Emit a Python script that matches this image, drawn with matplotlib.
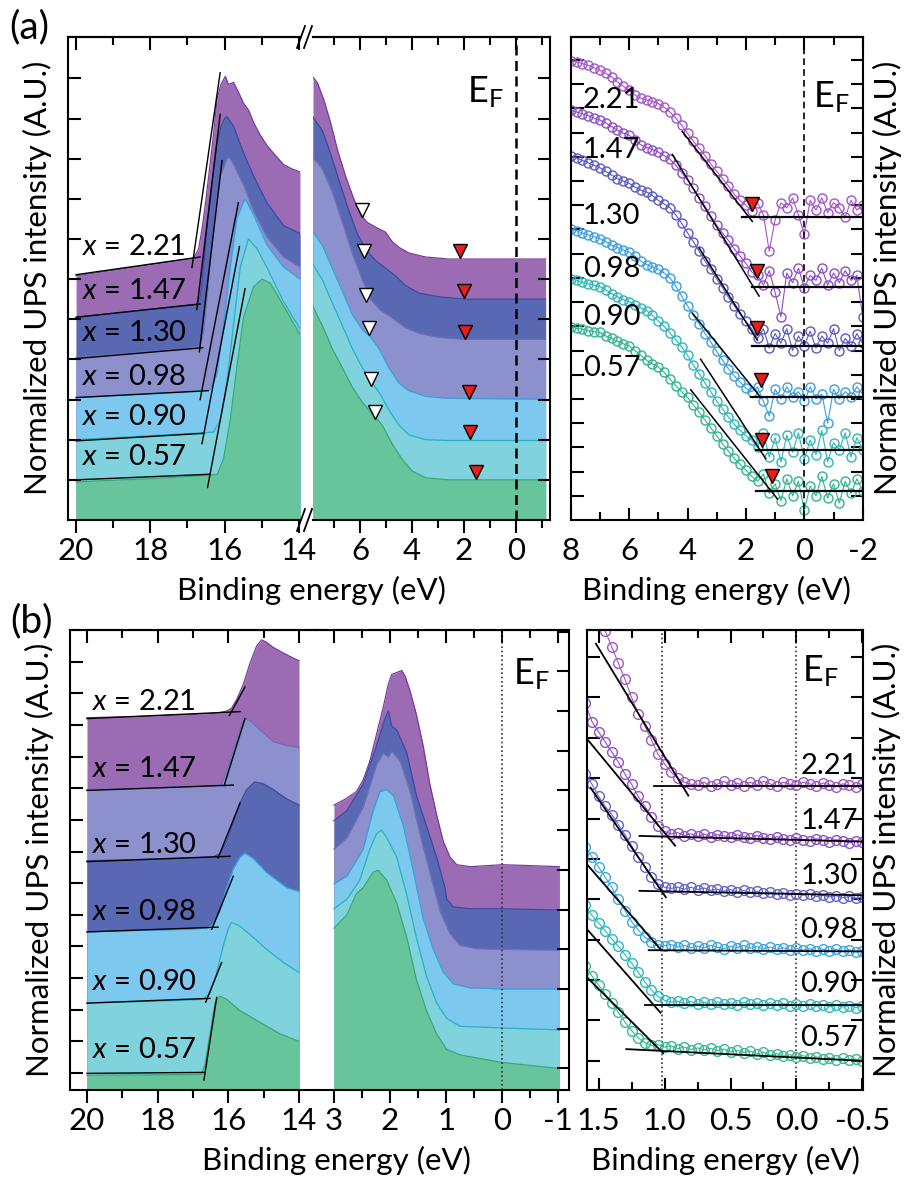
import numpy as np
import matplotlib
matplotlib.use('Agg')
import matplotlib.pyplot as plt
from matplotlib.ticker import MultipleLocator, FormatStrFormatter, NullLocator
from matplotlib.lines import Line2D

plt.rcParams['font.family'] = ['Lato', 'DejaVu Sans']
plt.rcParams['mathtext.fontset'] = 'custom'
plt.rcParams['mathtext.rm'] = 'Lato'
plt.rcParams['mathtext.it'] = 'Lato:italic'
plt.rcParams['axes.unicode_minus'] = False

# ============================ DATA ============================
samples = ['2.21', '1.47', '1.30', '0.98', '0.90', '0.57']

# ---- (a) secondary-electron cutoff region (20 -> 14 eV) ----
a_cut_E = [
    [20.0, 19.0, 18.0, 17.0, 16.84, 16.7, 16.6, 16.5, 16.4, 16.3, 16.2, 16.1, 15.98, 15.9, 15.76, 15.6, 15.49, 15.35, 15.22, 15.05, 14.86, 14.65, 14.41, 14.2, 13.97],
    [20.0, 19.0, 18.0, 17.0, 16.75, 16.65, 16.57, 16.48, 16.39, 16.3, 16.21, 16.1, 16.0, 15.94, 15.76, 15.49, 15.22, 14.86, 14.41, 13.97],
    [20.0, 19.0, 18.0, 17.0, 16.66, 16.57, 16.48, 16.39, 16.3, 16.21, 16.12, 15.94, 15.89, 15.76, 15.49, 15.22, 14.86, 14.41, 13.97],
    [20.0, 19.0, 18.0, 17.0, 16.4, 16.21, 16.03, 15.85, 15.67, 15.45, 15.22, 14.86, 14.41, 13.97],
    [20.0, 19.0, 18.0, 17.0, 16.3, 16.12, 15.94, 15.76, 15.58, 15.36, 15.13, 14.86, 14.41, 13.97],
    [20.0, 19.0, 18.0, 17.0, 16.2, 16.03, 15.85, 15.67, 15.49, 15.22, 14.99, 14.77, 14.41, 13.97],
]
a_cut_I = [
    [6.08, 6.22, 6.36, 6.5, 6.52, 6.75, 7.3, 8.0, 8.8, 9.6, 10.5, 10.85, 11.05, 10.85, 10.9, 10.6, 10.38, 10.2, 9.9, 9.6, 9.33, 9.1, 8.85, 8.75, 8.67],
    [5.05, 5.15, 5.25, 5.35, 5.38, 5.6, 6.29, 7.2, 8.0, 8.7, 9.33, 9.8, 10.0, 10.05, 9.81, 9.14, 8.57, 7.9, 7.33, 7.14],
    [4.05, 4.12, 4.2, 4.27, 4.33, 4.7, 5.52, 6.4, 7.24, 7.95, 8.57, 9.0, 9.05, 8.86, 8.35, 7.7, 7.05, 6.55, 6.3],
    [3.05, 3.1, 3.15, 3.2, 3.24, 3.62, 4.86, 6.29, 7.52, 8.0, 7.6, 6.85, 6.3, 6.0],
    [2.0, 2.05, 2.1, 2.15, 2.19, 2.48, 3.43, 4.86, 6.29, 7.0, 6.76, 6.29, 5.43, 4.76],
    [0.95, 0.99, 1.03, 1.08, 1.14, 1.52, 2.48, 3.81, 5.05, 5.81, 6.0, 5.9, 5.33, 4.62],
]
a_cut_base_E = [[20.0, 16.66], [20.0, 16.66], [20.0, 16.59], [20.0, 16.44], [20.0, 16.55], [20.0, 16.39]]
a_cut_base_I = [[6.11, 6.55], [5.05, 5.38], [4.02, 4.29], [3.05, 3.22], [1.97, 2.16], [1.0, 1.14]]
a_cut_edge_E = [[16.88, 16.12], [16.75, 16.12], [16.68, 16.07], [16.66, 15.63], [16.61, 15.6], [16.46, 15.45]]
a_cut_edge_I = [[6.29, 11.14], [5.24, 10.1], [4.19, 8.95], [3.0, 7.9], [1.9, 6.81], [0.81, 5.76]]

# ---- (a) valence region (7.8 -> -1.1 eV) ----
a_val_E = [
    [7.81, 7.64, 7.39, 7.13, 6.87, 6.55, 6.23, 5.97, 5.72, 5.33, 5.02, 4.76, 4.50, 4.12, 3.48, 2.58, -1.14],
    [7.81, 7.45, 7.13, 6.81, 6.43, 6.10, 5.78, 5.40, 5.02, 4.63, 4.25, 3.73, 2.96, 1.94, -1.14],
    [7.81, 7.45, 7.07, 6.68, 6.30, 5.91, 5.59, 5.21, 4.76, 4.25, 3.73, 2.96, 1.94, -1.14],
    [7.81, 7.45, 7.07, 6.68, 6.30, 5.91, 5.59, 5.27, 4.89, 4.50, 4.12, 3.48, 2.58, -1.14],
    [7.81, 7.45, 7.07, 6.68, 6.30, 5.91, 5.53, 5.21, 4.89, 4.50, 4.12, 3.48, 2.58, -1.14],
    [7.81, 7.45, 7.07, 6.68, 6.30, 5.91, 5.53, 5.14, 4.76, 4.37, 3.99, 3.48, 2.58, -1.14],
]
a_val_I = [
    [11.03, 10.89, 10.46, 9.89, 9.22, 8.55, 7.98, 7.60, 7.41, 7.27, 7.17, 6.93, 6.79, 6.65, 6.55, 6.50, 6.50],
    [10.03, 9.70, 9.12, 8.46, 7.70, 7.12, 6.74, 6.46, 6.27, 6.08, 5.84, 5.65, 5.56, 5.50, 5.50],
    [9.03, 8.74, 8.17, 7.41, 6.65, 5.98, 5.50, 5.22, 5.03, 4.79, 4.65, 4.55, 4.50, 4.50],
    [7.17, 6.84, 6.27, 5.70, 5.12, 4.74, 4.55, 4.27, 3.79, 3.41, 3.22, 3.08, 3.03, 3.01],
    [6.36, 5.98, 5.41, 4.84, 4.27, 3.79, 3.41, 3.12, 2.74, 2.36, 2.12, 2.00, 1.98, 1.98],
    [5.31, 4.84, 4.27, 3.79, 3.31, 2.93, 2.65, 2.36, 1.89, 1.50, 1.22, 1.05, 1.00, 1.00],
]
a_val_peak_E = [5.91, 5.85, 5.78, 5.66, 5.59, 5.43]
a_val_peak_I = [7.71, 6.70, 5.60, 4.79, 3.50, 2.70]
a_val_vbm_E = [2.16, 2.00, 1.96, 1.81, 1.75, 1.55]
a_val_vbm_I = [6.70, 5.70, 4.68, 3.20, 2.19, 1.20]

# ---- (a) valence band edge (8 -> -2 eV) ----
a_edge_E = [8.0, 7.8, 7.6, 7.4, 7.2, 7.0, 6.8, 6.6, 6.4, 6.2, 6.0, 5.8, 5.6, 5.4, 5.2, 5.0, 4.8, 4.6, 4.4, 4.2,
            4.0, 3.8, 3.6, 3.4, 3.2, 3.0, 2.8, 2.6, 2.4, 2.2, 2.0, 1.8, 1.6, 1.4, 1.2, 1.0, 0.8, 0.6, 0.4, 0.2,
            0.0, -0.2, -0.4, -0.6, -0.8, -1.0, -1.2, -1.4, -1.6, -1.8, -2.0]
a_edge_I = [
    [18.97, 18.92, 18.85, 18.78, 18.68, 18.58, 18.45, 18.30, 18.10, 17.92, 17.75, 17.55, 17.42, 17.35, 17.28, 17.20, 17.05, 16.85, 16.60, 16.30,
     15.97, 15.65, 15.35, 15.05, 14.70, 14.40, 14.10, 13.80, 13.45, 13.20, 13.00, 12.75, 13.10, 12.60, 11.10, 12.40, 13.10, 12.90, 13.30, 12.60,
     11.80, 13.20, 12.80, 13.30, 12.70, 13.10, 12.90, 12.50, 13.20, 12.80, 13.00],
    [16.92, 16.85, 16.78, 16.70, 16.60, 16.52, 16.40, 16.25, 16.10, 15.98, 15.89, 15.70, 15.50, 15.38, 15.30, 15.20, 15.05, 14.90, 14.65, 14.35,
     14.05, 13.70, 13.30, 12.95, 12.55, 12.17, 11.85, 11.55, 11.20, 10.90, 10.60, 10.25, 10.10, 9.70, 10.30, 9.40, 8.40, 10.20, 9.80, 10.40,
     9.60, 10.10, 9.90, 10.40, 9.70, 10.20, 9.80, 10.30, 9.90, 10.10, 8.40],
    [15.02, 14.95, 14.85, 14.75, 14.65, 14.55, 14.40, 14.25, 14.10, 14.00, 13.91, 13.75, 13.62, 13.55, 13.40, 13.20, 13.05, 12.90, 12.60, 12.25,
     11.86, 11.50, 11.10, 10.70, 10.35, 9.96, 9.60, 9.20, 8.85, 8.50, 8.20, 7.90, 7.50, 7.90, 7.10, 7.70, 7.30, 7.90, 7.00, 7.60,
     7.20, 7.80, 7.10, 7.60, 7.30, 7.90, 7.00, 7.50, 7.20, 7.70, 7.30],
    [12.02, 11.95, 11.85, 11.78, 11.70, 11.62, 11.50, 11.35, 11.25, 11.15, 11.07, 10.90, 10.70, 10.55, 10.45, 10.36, 10.20, 10.00, 9.65, 9.25,
     8.85, 8.45, 8.10, 7.70, 7.35, 6.96, 6.60, 6.25, 5.95, 5.70, 5.45, 5.30, 5.50, 4.90, 4.30, 5.40, 5.00, 5.50, 5.10, 5.30,
     4.90, 5.50, 5.00, 5.20, 4.00, 5.40, 5.00, 5.30, 5.10, 5.50, 5.20],
    [9.96, 9.90, 9.82, 9.75, 9.70, 9.64, 9.50, 9.35, 9.22, 9.10, 9.01, 8.88, 8.75, 8.65, 8.45, 8.22, 8.00, 7.72, 7.45, 7.15,
     6.80, 6.40, 6.05, 5.65, 5.30, 4.90, 4.60, 4.25, 3.95, 3.70, 3.48, 3.30, 3.00, 3.60, 2.60, 3.40, 2.40, 3.50, 2.80, 3.60,
     2.50, 3.30, 2.70, 3.70, 2.40, 3.20, 2.90, 3.60, 2.60, 3.40, 2.90],
    [7.98, 7.92, 7.88, 7.82, 7.78, 7.75, 7.60, 7.50, 7.38, 7.28, 7.19, 7.00, 6.80, 6.60, 6.45, 6.32, 6.10, 5.82, 5.55, 5.30,
     5.06, 4.75, 4.45, 4.12, 3.80, 3.48, 3.15, 2.85, 2.55, 2.30, 2.06, 1.80, 1.60, 1.90, 1.10, 1.50, 0.80, 1.70, 1.00, 1.60,
     0.40, 1.40, 1.00, 1.80, 0.90, 1.50, 0.70, 1.60, 1.10, 1.70, 1.20],
]
a_fit_slope_E = [[4.18, 1.78], [4.52, 1.55], [3.60, 1.61], [3.83, 1.49], [3.55, 1.32], [3.89, 0.92]]
a_fit_slope_I = [[16.05, 12.33], [15.10, 9.25], [11.23, 7.43], [8.54, 5.06], [6.64, 2.53], [5.38, 0.87]]
a_fit_flat_E = [[2.12, -2.0], [1.78, -2.0], [1.78, -2.0], [1.84, -2.0], [1.66, -2.0], [1.66, -2.0]]
a_fit_flat_I = [[12.52, 12.52], [9.61, 9.61], [7.19, 7.19], [5.06, 5.06], [2.88, 2.88], [1.19, 1.19]]
a_edge_vbm_E = [1.78, 1.61, 1.61, 1.49, 1.44, 1.09]
a_edge_vbm_I = [13.04, 10.28, 7.91, 5.77, 3.32, 1.82]

# ---- (b) secondary-electron cutoff region (20 -> 14 eV) ----
b_cut_E = [
    [20.0, 18.7, 17.28, 16.33, 16.05, 15.91, 15.77, 15.58, 15.39, 15.2, 15.06, 14.92, 14.73, 14.44, 14.16, 14.0],
    [20.0, 18.7, 17.28, 16.43, 16.19, 16.05, 15.86, 15.67, 15.53, 15.39, 15.1, 14.73, 14.35, 14.0],
    [20.0, 18.7, 17.28, 16.43, 16.24, 16.05, 15.86, 15.67, 15.48, 15.25, 15.01, 14.73, 14.35, 14.0],
    [20.0, 18.7, 17.28, 16.62, 16.43, 16.24, 16.05, 15.86, 15.67, 15.53, 15.29, 14.92, 14.35, 14.0],
    [20.0, 18.7, 17.28, 16.71, 16.52, 16.33, 16.14, 16.0, 15.91, 15.67, 15.29, 14.92, 14.44, 14.0],
    [20.0, 18.7, 17.28, 16.76, 16.66, 16.52, 16.38, 16.24, 16.05, 15.67, 15.1, 14.54, 14.0],
]
b_cut_I = [
    [11.23, 11.26, 11.32, 11.37, 11.44, 11.53, 11.79, 12.27, 12.94, 13.49, 13.69, 13.61, 13.45, 13.27, 13.11, 13.03],
    [8.96, 8.99, 9.04, 9.08, 9.14, 9.5, 10.23, 10.84, 11.2, 11.14, 10.84, 10.47, 10.35, 10.29],
    [6.71, 6.74, 6.79, 6.83, 6.93, 7.31, 7.92, 8.53, 8.96, 9.2, 9.14, 8.96, 8.66, 8.47],
    [4.46, 4.5, 4.54, 4.58, 4.7, 5.13, 5.86, 6.46, 6.83, 6.95, 6.77, 6.34, 5.86, 5.74],
    [2.21, 2.25, 2.3, 2.33, 2.52, 3.18, 4.03, 4.57, 4.76, 4.64, 4.28, 3.91, 3.49, 3.18],
    [-0.07, -0.06, -0.05, -0.04, 0.27, 1.24, 2.21, 2.43, 2.33, 1.97, 1.6, 1.24, 1.0],
]
b_cut_base_E = [[20.0, 15.67], [20.0, 15.86], [20.0, 15.95], [20.0, 16.29], [20.0, 16.52], [20.0, 16.69]]
b_cut_base_I = [[11.2, 11.42], [8.93, 9.1], [6.68, 6.85], [4.46, 4.61], [2.21, 2.36], [-0.01, 0.02]]
b_cut_edge_E = [[15.97, 15.53], [16.12, 15.53], [16.29, 15.67], [16.47, 15.86], [16.64, 16.19], [16.69, 16.33]]
b_cut_edge_I = [[11.3, 12.2], [9.08, 11.2], [6.8, 8.53], [4.54, 6.22], [2.24, 3.49], [-0.22, 2.39]]

# ---- (b) valence region (3 -> -1 eV) ----
b_val_E = [
    [3.0, 2.8, 2.6, 2.48, 2.36, 2.24, 2.12, 2.03, 1.97, 1.88, 1.79, 1.73, 1.64, 1.53, 1.41, 1.29, 1.17, 1.05, 0.93, 0.81, 0.57, 0.0, -0.44, -1.02],
    [3.0, 2.77, 2.48, 2.24, 2.09, 2.03, 1.97, 1.88, 1.7, 1.53, 1.35, 1.17, 1.02, 0.99, 0.87, 0.57, 0.0, -1.02],
    [3.0, 2.77, 2.48, 2.24, 2.12, 2.03, 1.97, 1.82, 1.64, 1.47, 1.29, 1.11, 0.93, 0.75, 0.46, 0.0, -1.02],
    [3.0, 2.77, 2.48, 2.3, 2.18, 2.06, 1.94, 1.76, 1.58, 1.41, 1.23, 1.05, 0.87, 0.57, 0.0, -1.02],
    [3.0, 2.77, 2.54, 2.36, 2.24, 2.15, 2.06, 1.88, 1.7, 1.53, 1.35, 1.17, 0.99, 0.75, 0.0, -1.02],
    [3.0, 2.77, 2.6, 2.48, 2.3, 2.21, 2.06, 1.88, 1.7, 1.53, 1.35, 1.17, 0.99, 0.75, 0.0, -1.02],
]
b_val_I = [
    [6.63, 6.78, 6.97, 7.26, 7.74, 8.42, 9.1, 9.68, 9.92, 9.97, 10.02, 9.87, 9.49, 8.91, 8.13, 7.16, 6.39, 5.71, 5.32, 5.13, 5.08, 5.13, 5.11, 5.08],
    [6.24, 6.49, 7.16, 8.13, 8.81, 9.0, 8.62, 8.52, 7.94, 6.87, 6.1, 5.32, 4.55, 4.26, 4.07, 4.02, 4.02, 3.99],
    [5.52, 5.81, 6.58, 7.65, 7.94, 7.84, 7.99, 7.74, 6.97, 5.91, 4.94, 3.97, 3.39, 3.1, 3.02, 3.0, 2.98],
    [4.65, 4.84, 5.52, 6.49, 6.97, 7.02, 6.87, 6.1, 4.94, 3.78, 3.0, 2.42, 2.13, 2.03, 2.0, 2.0],
    [4.02, 4.26, 4.74, 5.52, 5.91, 6.0, 5.81, 5.32, 4.36, 3.29, 2.32, 1.65, 1.26, 1.06, 1.02, 0.97],
    [3.53, 3.87, 4.4, 4.55, 4.94, 4.99, 4.74, 4.16, 3.29, 2.23, 1.45, 0.87, 0.48, 0.34, 0.15, 0.0],
]

# ---- (b) valence band edge close-up (1.6 -> -0.5 eV) ----
b_edge_E = [1.60, 1.55, 1.50, 1.45, 1.40, 1.35, 1.30, 1.25, 1.20, 1.15, 1.10, 1.05, 1.00, 0.95, 0.90,
            0.85, 0.80, 0.75, 0.70, 0.65, 0.60, 0.55, 0.50, 0.45, 0.40, 0.35, 0.30, 0.25, 0.20, 0.15,
            0.10, 0.05, 0.00, -0.05, -0.10, -0.15, -0.20, -0.25, -0.30, -0.35, -0.40, -0.45, -0.50]
b_edge_I = [
    [11.8, 11.4, 11.05, 10.65, 10.25, 9.85, 9.45, 9.0, 8.6, 8.3, 7.95, 7.6, 7.35, 7.15, 7.0,
     6.9, 6.85, 6.82, 6.9, 6.8, 6.85, 6.92, 6.82, 6.88, 6.8, 6.9, 6.84, 6.92, 6.86, 6.8,
     6.9, 6.85, 6.82, 6.9, 6.86, 6.8, 6.88, 6.84, 6.78, 6.86, 6.82, 6.78, 6.85],
    [8.85, 8.4, 8.15, 7.9, 7.65, 7.4, 7.1, 6.85, 6.55, 6.3, 6.05, 5.82, 5.68, 5.62, 5.65,
     5.58, 5.62, 5.56, 5.62, 5.55, 5.6, 5.57, 5.54, 5.6, 5.55, 5.52, 5.58, 5.53, 5.5, 5.55,
     5.5, 5.47, 5.52, 5.48, 5.45, 5.5, 5.46, 5.43, 5.48, 5.44, 5.4, 5.45, 5.42],
    [7.1, 6.85, 6.55, 6.3, 6.1, 5.85, 5.6, 5.33, 5.05, 4.8, 4.55, 4.38, 4.3, 4.27, 4.3,
     4.25, 4.3, 4.24, 4.28, 4.22, 4.25, 4.2, 4.24, 4.18, 4.22, 4.17, 4.2, 4.15, 4.18, 4.13,
     4.16, 4.11, 4.14, 4.1, 4.12, 4.07, 4.1, 4.06, 4.09, 4.04, 4.07, 4.03, 4.05],
    [5.3, 5.05, 4.8, 4.55, 4.3, 4.0, 3.72, 3.45, 3.24, 3.07, 2.95, 2.88, 2.85, 2.88, 2.82,
     2.86, 2.8, 2.84, 2.8, 2.86, 2.81, 2.78, 2.84, 2.8, 2.86, 2.79, 2.83, 2.77, 2.82, 2.76,
     2.8, 2.75, 2.79, 2.74, 2.78, 2.73, 2.77, 2.72, 2.76, 2.71, 2.75, 2.7, 2.72],
    [3.85, 3.6, 3.42, 3.22, 3.02, 2.84, 2.63, 2.42, 2.2, 1.96, 1.75, 1.6, 1.5, 1.45, 1.48,
     1.42, 1.47, 1.41, 1.45, 1.4, 1.46, 1.41, 1.44, 1.39, 1.45, 1.4, 1.43, 1.38, 1.44, 1.39,
     1.42, 1.37, 1.41, 1.36, 1.4, 1.35, 1.39, 1.34, 1.38, 1.33, 1.37, 1.32, 1.35],
    [2.35, 2.1, 1.88, 1.65, 1.43, 1.2, 0.96, 0.75, 0.57, 0.45, 0.38, 0.4, 0.34, 0.37, 0.3,
     0.34, 0.28, 0.32, 0.27, 0.31, 0.25, 0.29, 0.22, 0.26, 0.2, 0.24, 0.17, 0.21, 0.14, 0.18,
     0.12, 0.15, 0.1, 0.13, 0.07, 0.1, 0.05, 0.08, 0.03, 0.06, 0.01, 0.04, 0.0],
]
b_fit_slope_E = [[1.52, 0.82], [1.63, 0.92], [1.56, 0.99], [1.61, 1.03], [1.62, 1.03], [1.61, 1.01]]
b_fit_slope_I = [[10.33, 6.57], [8.14, 5.33], [6.76, 4.05], [4.95, 2.76], [3.38, 1.19], [2.14, 0.19]]
b_fit_flat_E = [[1.08, -0.5], [1.19, -0.5], [1.19, -0.5], [1.12, -0.5], [1.15, -0.5], [1.29, -0.5]]
b_fit_flat_I = [[6.81, 6.81], [5.57, 5.43], [4.21, 4.10], [2.74, 2.71], [1.38, 1.38], [0.29, 0.00]]
b_onset_E = 1.02

# ============================ STYLE ============================
PURPLE, DBLUE, LAV, LBLUE, CYAN, GREEN = '#9b6cb4', '#5868b2', '#8c91cd', '#7dc8ee', '#80d2dc', '#68c49b'
EDGE = {PURPLE: '#7a3c9c', DBLUE: '#3b4aa0', LAV: '#6b70b8', LBLUE: '#35a2dc', CYAN: '#25b3c0', GREEN: '#38a877'}
a_fill = [PURPLE, DBLUE, LAV, LBLUE, CYAN, GREEN]
b_fill_left = [PURPLE, LAV, DBLUE, LBLUE, CYAN, GREEN]
b_fill_mid = [PURPLE, DBLUE, LAV, LBLUE, CYAN, GREEN]
a_circ = ['#a455c8', '#8e4ec6', '#5a5ac2', '#3a9ee0', '#2fb4bb', '#30b48e']
b_circ = ['#a057c4', '#9150c6', '#6464cc', '#3ea6e0', '#2fb8bd', '#3cb893']

FS_TICK = 22.5
FS_LAB = 22.5
FS_SAMPLE = 21
FS_EF = 26
W, H = 906.0, 1184.0
fig = plt.figure(figsize=(W / 100, H / 100), dpi=100)


def add_ax(x0, y0, x1, y1):
    return fig.add_axes([x0 / W, 1 - y1 / H, (x1 - x0) / W, (y1 - y0) / H])


def style(ax, xlim, ylim, xmaj, xmin, yticks, bottom_dir, left, right, fmt=None):
    ax.set_xlim(*xlim)
    ax.set_ylim(*ylim)
    for s in ax.spines.values():
        s.set_linewidth(1.5)
    ax.spines['left'].set_visible(left)
    ax.spines['right'].set_visible(right)
    ax.xaxis.set_major_locator(MultipleLocator(xmaj))
    ax.xaxis.set_minor_locator(MultipleLocator(xmin))
    if fmt:
        ax.xaxis.set_major_formatter(FormatStrFormatter(fmt))
    pad = 3.5 if bottom_dir == 'out' else 12.5
    ax.tick_params(axis='x', which='both', direction=bottom_dir, top=False, bottom=True,
                   width=1.5, labelsize=FS_TICK, pad=pad)
    ax.tick_params(axis='x', which='major', length=9)
    ax.tick_params(axis='x', which='minor', length=5.5)
    ax.set_yticks(yticks)
    ax.yaxis.set_minor_locator(NullLocator())
    ax.tick_params(axis='y', which='major', direction='in', left=left, right=right,
                   labelleft=False, labelright=False, length=9, width=1.5)
    top = ax.secondary_xaxis('top')
    top.xaxis.set_major_locator(MultipleLocator(xmaj))
    top.xaxis.set_minor_locator(MultipleLocator(xmin))
    top.tick_params(axis='x', which='both', direction='in', labeltop=False, width=1.5)
    top.tick_params(axis='x', which='major', length=9)
    top.tick_params(axis='x', which='minor', length=5.5)
    top.spines['top'].set_linewidth(1.5)


def stacked_fills(ax, Es, Is, colors, floor):
    for E, I, c in zip(Es, Is, colors):
        ax.fill_between(E, I, floor, color=c, lw=0, zorder=1)
        ax.plot(E, I, color=EDGE[c], lw=0.9, zorder=1.5)


EF = 'E$_\\mathrm{F}$'

# ---------------- (a) left: cutoff ----------------
a_ylim = (0, 12.03)
ax1 = add_ax(68.3, 37, 300, 520)
stacked_fills(ax1, a_cut_E, a_cut_I, a_fill, a_ylim[0])
for i in range(6):
    ax1.plot(a_cut_base_E[i], a_cut_base_I[i], color='k', lw=1.0, zorder=3)
    ax1.plot(a_cut_edge_E[i], a_cut_edge_I[i], color='k', lw=1.0, zorder=3)
a_cut_label_y = [6.81, 5.71, 4.65, 3.57, 2.57, 1.57]
for s, y in zip(samples, a_cut_label_y):
    ax1.text(19.83, y, '$x$ = ' + s, fontsize=FS_SAMPLE, ha='left', va='center', zorder=4)
style(ax1, (20.21, 13.97), a_ylim, 2, 1, range(1, 12), 'out', True, False)

# ---------------- (a) middle: valence ----------------
ax2 = add_ax(313, 37, 550, 520)
stacked_fills(ax2, a_val_E, a_val_I, a_fill, a_ylim[0])
ax2.axvline(0, color='k', lw=1.8, ls=(0, (4, 2.2)), zorder=2)
ax2.plot(a_val_peak_E, a_val_peak_I, 'v', ms=10, mfc='white', mec='k', mew=1.0, ls='none', zorder=4)
ax2.plot(a_val_vbm_E, a_val_vbm_I, 'v', ms=10, mfc='#e3201b', mec='k', mew=1.0, ls='none', zorder=4)
ax2.text(1.9, 10.65, EF, fontsize=FS_EF, ha='left', va='center')
style(ax2, (7.81, -1.31), a_ylim, 2, 1, range(1, 12), 'out', False, True)

# break marks
for yb in (37, 520):
    for dx in (0, 7):
        fig.add_artist(Line2D([(297 + dx) / W, (305 + dx) / W], [1 - (yb + 11) / H, 1 - (yb - 11) / H],
                              color='k', lw=1.3))

# ---------------- (a) right: VB edge ----------------
ax3 = add_ax(570.7, 37, 862.7, 520)
for i in range(6):
    ax3.plot(a_edge_E, a_edge_I[i], '-o', color=a_circ[i], lw=0.8, ms=6.5, mfc='none', mec=a_circ[i], mew=1.0, zorder=2)
for i in range(6):
    ax3.plot(a_fit_slope_E[i], a_fit_slope_I[i], color='k', lw=1.1, zorder=3)
    ax3.plot(a_fit_flat_E[i], a_fit_flat_I[i], color='k', lw=1.6, zorder=3)
ax3.plot(a_edge_vbm_E, a_edge_vbm_I, 'v', ms=10, mfc='#e3201b', mec='k', mew=1.0, ls='none', zorder=4)
ax3.axvline(0, color='k', lw=1.2, ls=(0, (4, 2.5)), zorder=2.5)
a_edge_label_y = [17.36, 15.30, 12.57, 10.36, 8.38, 6.29]
for s, y in zip(samples, a_edge_label_y):
    ax3.text(7.58, y, s, fontsize=FS_SAMPLE, ha='left', va='center', zorder=4)
ax3.text(-0.3, 17.47, EF, fontsize=FS_EF, ha='left', va='center')
style(ax3, (8.0, -2.0), (0, 19.95), 2, 1, range(1, 20), 'in', True, True)

# ---------------- (b) left: cutoff ----------------
b_ylim_l = (-0.52, 14.0)
ax4 = add_ax(70, 630, 316, 1089.5)
stacked_fills(ax4, b_cut_E, b_cut_I, b_fill_left, b_ylim_l[0])
for i in range(6):
    ax4.plot(b_cut_base_E[i], b_cut_base_I[i], color='k', lw=1.0, zorder=3)
    ax4.plot(b_cut_edge_E[i], b_cut_edge_I[i], color='k', lw=1.0, zorder=3)
b_cut_label_y = [11.71, 9.62, 7.22, 5.10, 2.88, 0.73]
for s, y in zip(samples, b_cut_label_y):
    ax4.text(19.85, y, '$x$ = ' + s, fontsize=FS_SAMPLE, ha='left', va='center', zorder=4)
style(ax4, (20.48, 13.52), b_ylim_l, 2, 1, range(0, 14), 'out', True, False)

# ---------------- (b) middle: valence ----------------
b_ylim_m = (-0.53, 11.04)
ax5 = add_ax(316, 630, 569.3, 1089.5)
stacked_fills(ax5, b_val_E, b_val_I, b_fill_mid, b_ylim_m[0])
ax5.axvline(0, color='#333333', lw=1.2, ls=(0, (1, 1.6)), zorder=2)
ax5.text(-0.2, 9.92, EF, fontsize=FS_EF, ha='left', va='center')
style(ax5, (3.32, -1.196), b_ylim_m, 1, 0.5, range(0, 12), 'out', False, True)

# ---------------- (b) right: VB edge close-up ----------------
ax6 = add_ax(586.7, 630, 862.7, 1089.5)
for i in range(6):
    ax6.plot(b_edge_E, b_edge_I[i], '-o', color=b_circ[i], lw=0.8, ms=7, mfc='none', mec=b_circ[i], mew=1.0, zorder=2)
for i in range(6):
    ax6.plot(b_fit_slope_E[i], b_fit_slope_I[i], color='k', lw=1.3, zorder=3)
    ax6.plot(b_fit_flat_E[i], b_fit_flat_I[i], color='k', lw=1.3, zorder=3)
ax6.axvline(0, color='#333333', lw=1.2, ls=(0, (1, 1.6)), zorder=1)
ax6.axvline(b_onset_E, color='#333333', lw=1.2, ls=(0, (1, 1.6)), zorder=1)
b_edge_label_y = [7.29, 5.95, 4.57, 3.24, 1.90, 0.57]
for s, y in zip(samples, b_edge_label_y):
    ax6.text(-0.03, y, s, fontsize=FS_SAMPLE, ha='left', va='center', zorder=4)
ax6.text(-0.04, 9.64, EF, fontsize=FS_EF, ha='left', va='center')
style(ax6, (1.59, -0.502), (-0.71, 10.67), 0.5, 0.25, range(0, 11), 'in', True, True, fmt='%.1f')

# ---------------- figure-level labels ----------------
def ftext(x, y, s, **kw):
    fig.text(x / W, 1 - y / H, s, **kw)

ftext(29, 27, '(a)', fontsize=28, ha='center', va='center')
ftext(31, 621, '(b)', fontsize=28, ha='center', va='center')
ylab = 'Normalized UPS intensity (A.U.)'
ftext(37, 278, ylab, fontsize=FS_LAB, rotation=90, ha='center', va='center')
ftext(887, 278, ylab, fontsize=FS_LAB, rotation=90, ha='center', va='center')
ftext(39, 860, ylab, fontsize=FS_LAB, rotation=90, ha='center', va='center')
ftext(886, 860, ylab, fontsize=FS_LAB, rotation=90, ha='center', va='center')
xlab = 'Binding energy (eV)'
ftext(311, 590, xlab, fontsize=FS_LAB, ha='center', va='center')
ftext(716, 590, xlab, fontsize=FS_LAB, ha='center', va='center')
ftext(336, 1160, xlab, fontsize=FS_LAB, ha='center', va='center')
ftext(725, 1160, xlab, fontsize=FS_LAB, ha='center', va='center')

fig.savefig('out.png', dpi=100)
